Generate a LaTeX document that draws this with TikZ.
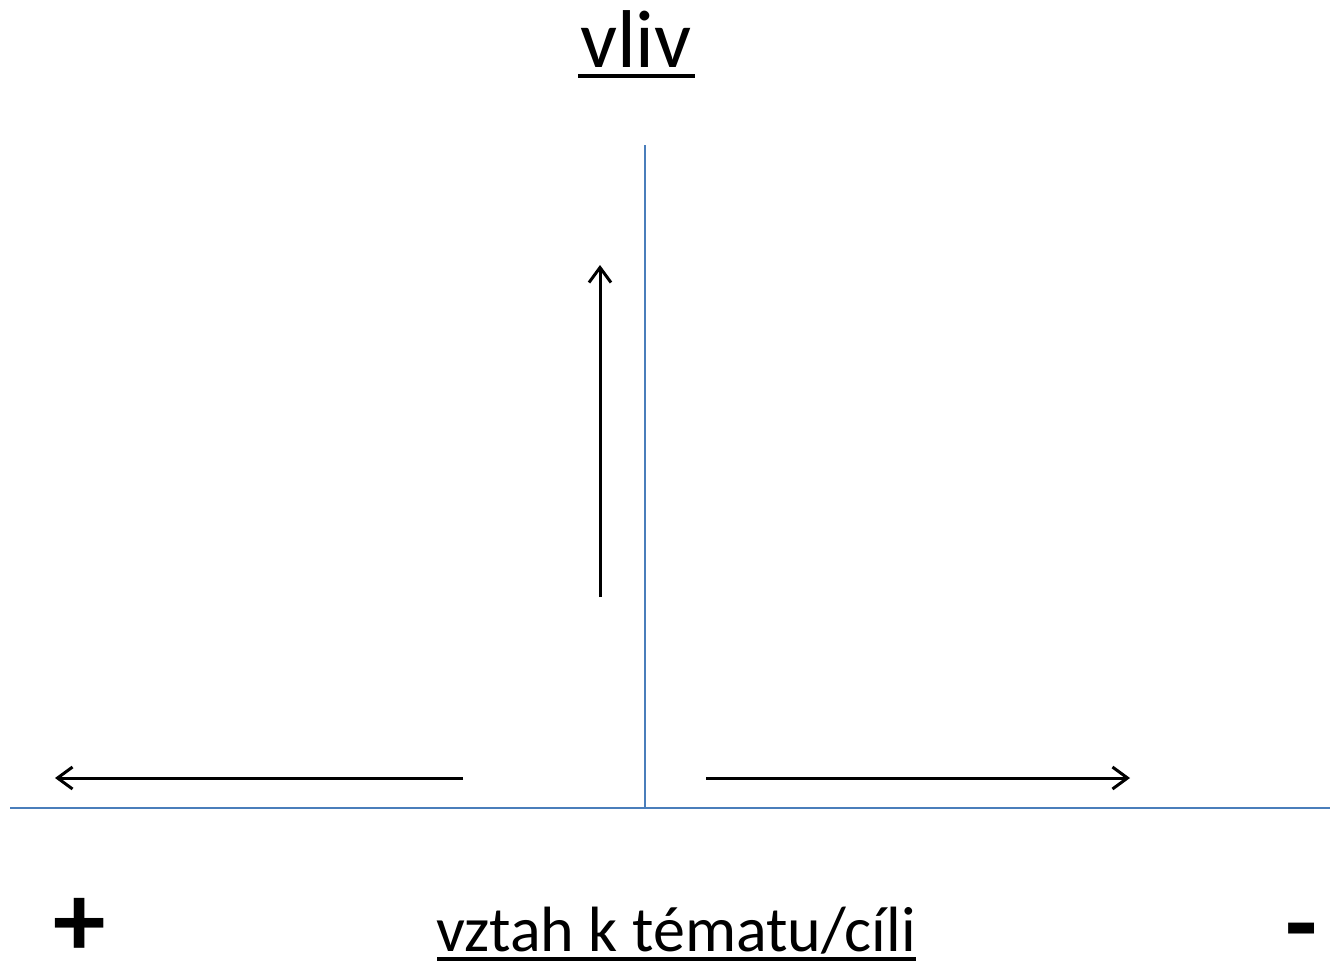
\documentclass[tikz,border=0pt]{standalone}
\usepackage{fontspec}
\setmainfont{Carlito}
\usetikzlibrary{arrows.meta}
\begin{document}
\begin{tikzpicture}[x=1pt,y=-1pt,
  axis/.style={draw=axisblue,line width=2.2pt},
  arr/.style={draw=black,line width=3pt,-{Straight Barb[length=15pt,width=22pt,line width=3pt]}},
  lbl/.style={inner sep=0pt,font=\fontsize{64}{70}\selectfont},
  big/.style={inner sep=0pt,font=\fontsize{82}{90}\selectfont},
  sign/.style={inner sep=0pt,font=\fontsize{105}{110}\selectfont\bfseries},
  uline/.style={draw=black,line width=3.5pt}]
\definecolor{axisblue}{HTML}{4A7EBB}
\useasboundingbox (0,0) rectangle (1330,961);
% axes
\coordinate (vtop) at (645,145);
\coordinate (origin) at (645,808);
\coordinate (hl) at (10,808);
\coordinate (hr) at (1330,808);
\draw[axis] (vtop) -- (origin);
\draw[axis] (hl) -- (hr);
% arrows
\coordinate (ua) at (600,597);
\coordinate (ub) at (600,265);
\coordinate (la) at (463,778);
\coordinate (lb) at (55,778);
\coordinate (ra) at (706,778);
\coordinate (rb) at (1130,778);
\draw[arr] (ua) -- (ub);
\draw[arr] (la) -- (lb);
\draw[arr] (ra) -- (rb);
% labels
\node[big,anchor=base] (vliv) at (636,67) {vliv};
\draw[uline] (578,76) -- (695,76);
\node[lbl,anchor=base] (vztah) at (676,951) {vztah k tématu/cíli};
\draw[uline] (437,959) -- (916,959);
\node[sign,anchor=base] (plus) at (80,956) {+};
\node[sign,anchor=base] (minus) at (1302,958) {-};
\end{tikzpicture}
\end{document}
